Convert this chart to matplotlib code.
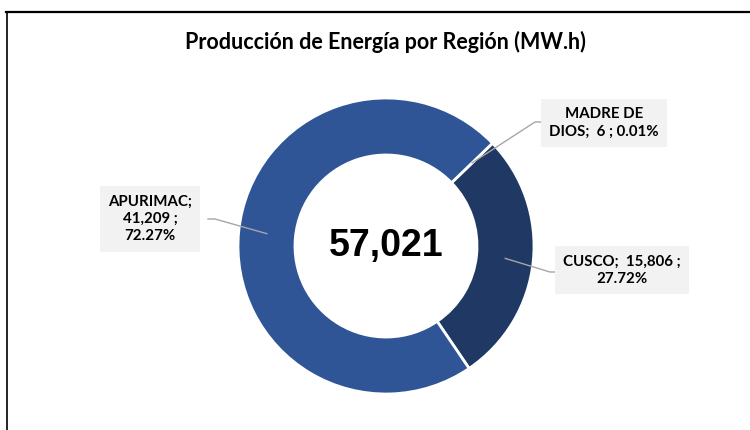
import numpy as np
import matplotlib.pyplot as plt
from matplotlib.lines import Line2D

# --- data ---
regions = ["MADRE DE\nDIOS", "CUSCO", "APURIMAC"]
values = [6, 15806, 41209]
percents = [0.01, 27.72, 72.27]
total = 57021

# --- style ---
APU = "#2F5597"
CUS = "#203864"
BOX = "#F2F2F2"
LEAD = "#A6A6A6"
FONT = ["Lato", "DejaVu Sans"]

W, H = 750, 430
fig = plt.figure(figsize=(W / 100, H / 100), dpi=100)


def px(x, y):
    """pixel (top-left origin) -> figure fraction"""
    return x / W, 1 - y / H


# frame (cropped on right/bottom like the source)
fig.add_artist(Line2D([6 / W, 1], [1 - 11.5 / H] * 2, color="black", lw=1.6))
fig.add_artist(Line2D([6.5 / W] * 2, [0, 1 - 11.5 / H], color="black", lw=1.2))

fig.text(*px(385, 42), "Producción de Energía por Región (MW.h)",
         ha="center", va="center", fontsize=15.5, fontweight="bold",
         family=FONT)

# donut axes
cx, cy, R = 386, 246, 148
ax = fig.add_axes([(cx - R) / W, (H - cy - R) / H, 2 * R / W, 2 * R / H])
wedges, _ = ax.pie(values, colors=[APU, CUS, APU], startangle=44,
                   counterclock=False, radius=1,
                   wedgeprops=dict(width=0.385, edgecolor="white", linewidth=2))
ax.set_xlim(-1, 1)
ax.set_ylim(-1, 1)
ax.set_aspect("equal")
ax.axis("off")

ax.text(0, 0, f"{total:,}", ha="center", va="center", fontsize=27,
        fontweight="bold", family="Liberation Sans")

# labels: (text, box center px, elbow px, box edge px)
label_text = [
    f"MADRE DE\nDIOS;  {values[0]:,} ; {percents[0]:.2f}%",
    f"CUSCO;  {values[1]:,} ;\n{percents[1]:.2f}%",
    f"APURIMAC;\n{values[2]:,} ;\n{percents[2]:.2f}%",
]
box_pos = [(604, 123), (622, 270), (150, 219)]
elbows = [((535, 122), (543, 122)),
          ((550, 272), (560, 272)),
          ((215, 219), (208, 219))]

to_fig = fig.transFigure.inverted()
for w, txt, bp, (elb, edge) in zip(wedges, label_text, box_pos, elbows):
    mid = np.deg2rad((w.theta1 + w.theta2) / 2)
    r = 0.81
    anchor = to_fig.transform(ax.transData.transform((r * np.cos(mid), r * np.sin(mid))))
    e1 = px(*elb)
    e2 = px(*edge)
    fig.add_artist(Line2D([anchor[0], e1[0], e2[0]], [anchor[1], e1[1], e2[1]],
                          color=LEAD, lw=1.0))
    fig.text(*px(*bp), txt, ha="center", va="center", fontsize=10.8,
             fontweight="bold", family=FONT, linespacing=1.3,
             bbox=dict(boxstyle="square,pad=0.55", facecolor=BOX, edgecolor="none"))

fig.savefig("out.png", dpi=100)
